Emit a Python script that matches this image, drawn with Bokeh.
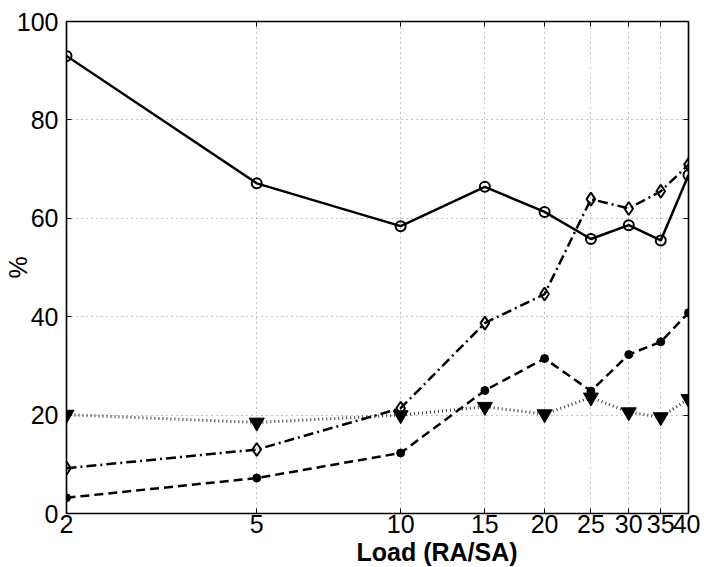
from bokeh.plotting import figure
from bokeh.models import FixedTicker, LinearAxis, LogAxis, Range1d, Title
from bokeh.embed import file_html
from bokeh.resources import INLINE

# ---- data ----
load = [2, 5, 10, 15, 20, 25, 30, 35, 40]
series_solid = [93.0, 67.1, 58.4, 66.4, 61.3, 55.8, 58.6, 55.5, 68.8]
series_dashdot = [9.2, 13.0, 21.4, 38.7, 44.6, 63.9, 62.0, 65.5, 70.9]
series_dashed = [3.2, 7.2, 12.3, 25.0, 31.5, 24.9, 32.3, 34.9, 40.8]
series_dotted = [20.1, 18.5, 20.0, 21.7, 20.2, 23.6, 20.6, 19.6, 23.3]

x_ticks = [2, 5, 10, 15, 20, 25, 30, 35, 40]
x_tick_labels = ["2", "5", "10", "15", "20", "25", "30", "35", "40"]
y_ticks = [0, 20, 40, 60, 80, 100]
x_label = "Load (RA/SA)"
y_label = "%"

FONT = "Liberation Sans"

p = figure(width=700, height=567, x_axis_type="log",
           x_range=Range1d(2, 40), y_range=Range1d(0, 100),
           output_backend="svg", toolbar_location=None,
           min_border_left=64, min_border_right=12,
           min_border_top=21, min_border_bottom=54)
p.background_fill_color = "white"
p.border_fill_color = "white"
p.outline_line_color = "black"
p.outline_line_width = 1.2

# axes
p.xaxis.ticker = FixedTicker(ticks=x_ticks)
p.xaxis.major_label_overrides = {t: l for t, l in zip(x_ticks, x_tick_labels)}
p.yaxis.ticker = FixedTicker(ticks=y_ticks)
for ax in (p.xaxis[0], p.yaxis[0]):
    ax.major_label_text_font = FONT
    ax.major_label_text_font_size = "25px"
    ax.major_label_text_color = "black"
    ax.major_tick_in = 5
    ax.major_tick_out = 0
    ax.minor_tick_in = 0
    ax.minor_tick_out = 0
    ax.axis_line_color = "black"
    ax.axis_line_width = 1.5
    ax.major_tick_line_color = "black"
    ax.major_tick_line_width = 1
p.yaxis.major_label_standoff = 8
p.xaxis.major_label_standoff = 1

p.yaxis.axis_label = y_label
p.yaxis.axis_label_text_font = FONT
p.yaxis.axis_label_text_font_size = "25px"
p.yaxis.axis_label_text_font_style = "normal"
p.yaxis.axis_label_text_color = "black"
p.yaxis.axis_label_standoff = -18

# mirrored tick marks on the top and right edges (no labels)
top = LogAxis(ticker=FixedTicker(ticks=x_ticks), major_label_text_font_size="0px",
              major_label_text_color=None,
              major_label_standoff=0, major_tick_in=5, major_tick_out=0,
              minor_tick_in=0, minor_tick_out=0, axis_line_color="black",
              axis_line_width=1.5)
right = LinearAxis(ticker=FixedTicker(ticks=y_ticks), major_label_text_font_size="0px",
                   major_label_text_color=None,
                   major_label_standoff=0, major_tick_in=5, major_tick_out=0,
                   minor_tick_in=0, minor_tick_out=0, axis_line_color="black",
                   axis_line_width=1.5)
p.add_layout(top, "above")
p.add_layout(right, "right")

# x-axis title, placed under the x tick labels
p.add_layout(Title(text=x_label, align="left", offset=290, standoff=0,
                   text_font=FONT, text_font_size="25px", text_font_style="bold",
                   text_color="black"), "below")

# grid
p.xgrid.ticker = FixedTicker(ticks=x_ticks)
p.ygrid.ticker = FixedTicker(ticks=y_ticks)
for g in (p.xgrid[0], p.ygrid[0]):
    g.grid_line_color = "#8a8a8a"
    g.grid_line_dash = "1 4"
    g.grid_line_width = 1

# series
p.line(load, series_dotted, line_color="#3a3a3a", line_width=3, line_dash="1 3")
p.scatter(load, series_dotted, marker="inverted_triangle", size=15,
          fill_color="black", line_color="black")

p.line(load, series_dashed, line_color="black", line_width=2.5, line_dash="9 5")
p.scatter(load, series_dashed, marker="circle", size=8,
          fill_color="black", line_color="black")

p.line(load, series_dashdot, line_color="black", line_width=2.5, line_dash="10 4 2 4")
p.scatter(load, series_dashdot, marker="diamond", size=13,
          fill_alpha=0, line_color="black", line_width=2)

p.line(load, series_solid, line_color="black", line_width=2.5)
p.scatter(load, series_solid, marker="circle", size=10,
          fill_alpha=0, line_color="black", line_width=2)

open("out.html", "w").write(file_html(p, INLINE))
